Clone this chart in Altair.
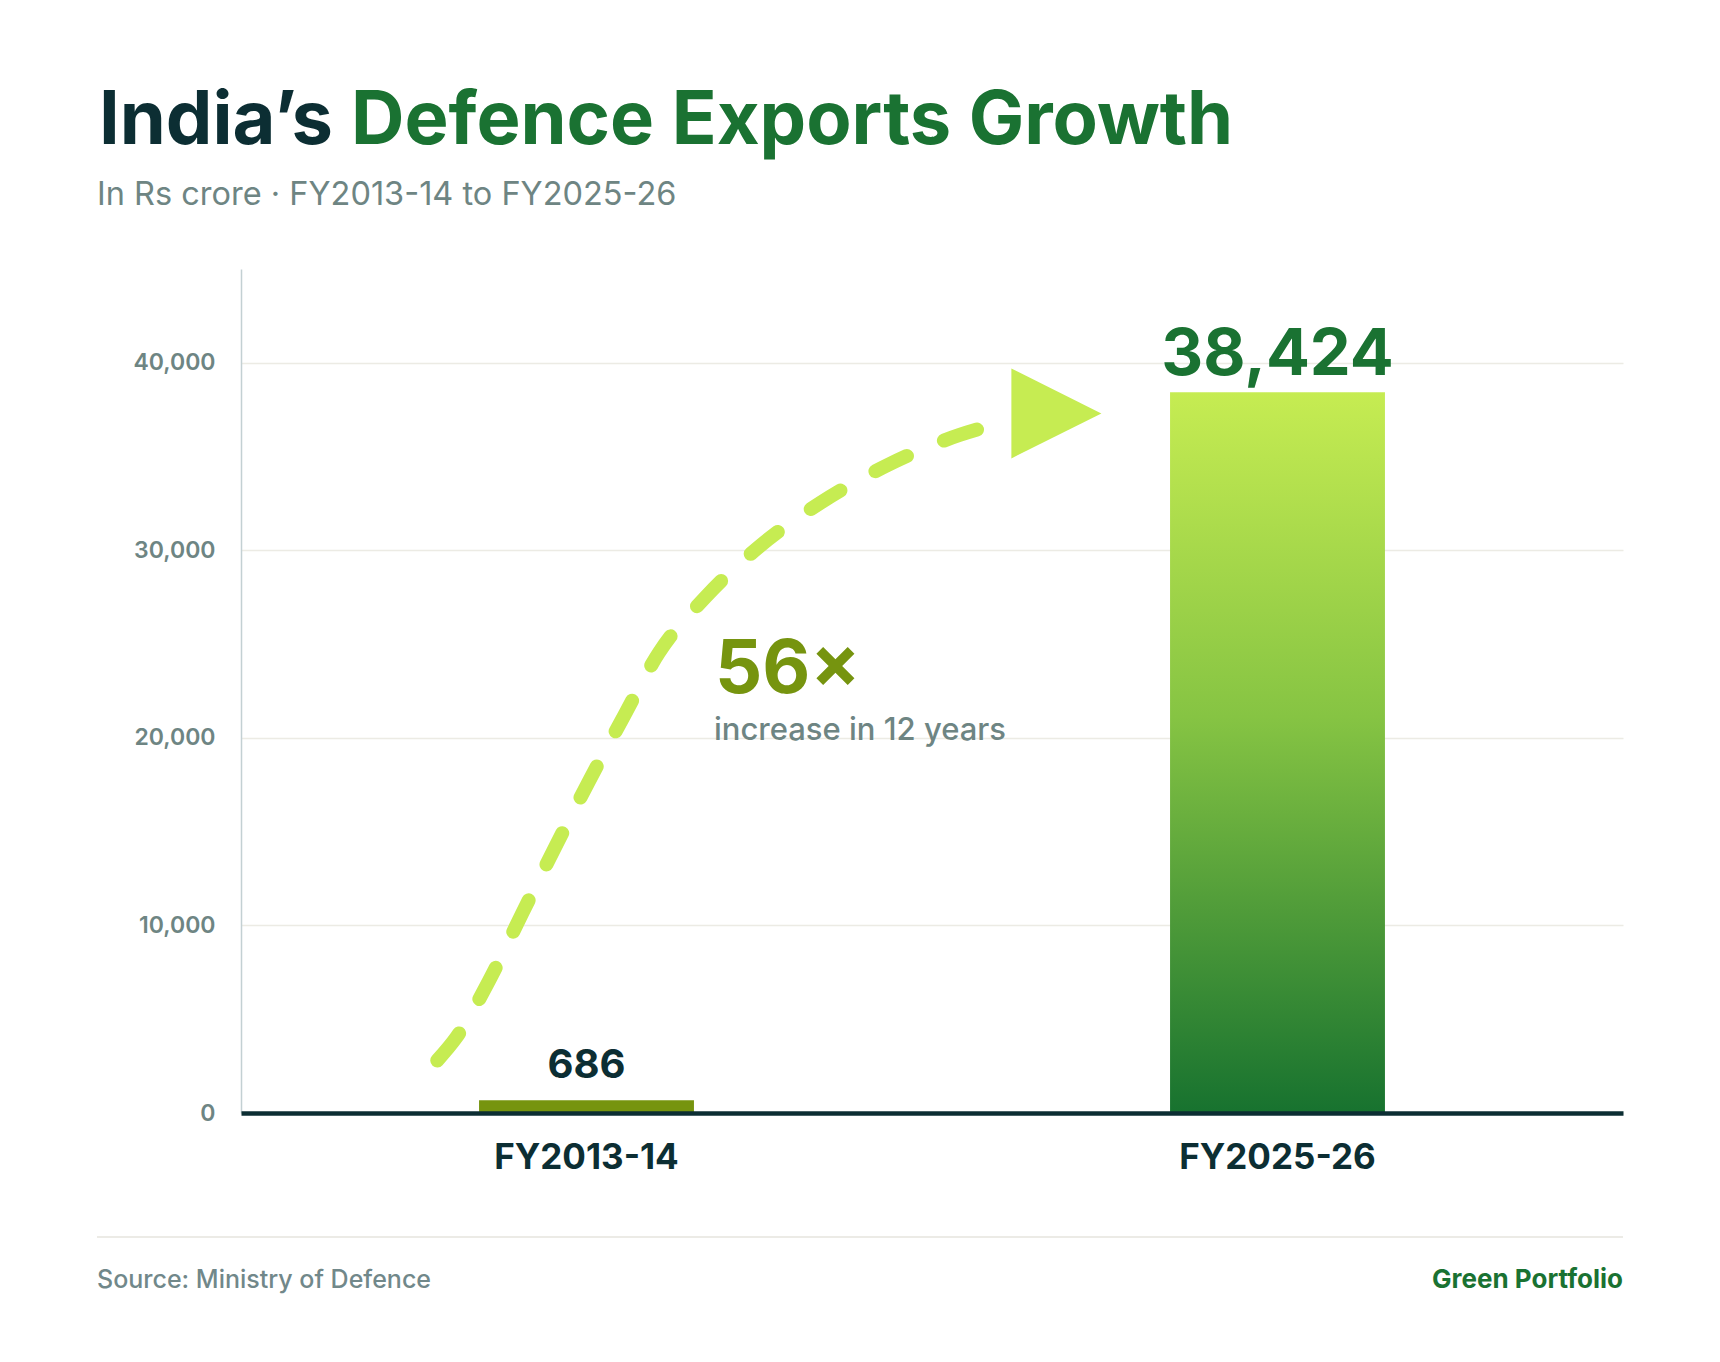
import altair as alt
import pandas as pd

# ---- data ----
categories = ["FY2013-14", "FY2025-26"]
exports = [686, 38424]
y_ticks = [0, 10000, 20000, 30000, 40000]

# curved growth arrow, in chart units (x: 0..2 band units, y: Rs crore)
arrow_u = [0.284, 0.312, 0.361, 0.407, 0.455, 0.503, 0.551, 0.605, 0.672, 0.750, 0.839, 0.936, 1.040, 1.112]
arrow_v = [2800, 4050, 7200, 10650, 14200, 17650, 20950, 24550, 27500, 30200, 32550, 34550, 36150, 36900]
head_u = [1.18]
head_v = [37300]

title_dark = "India’s"
title_green = "Defence Exports Growth"
subtitle = "In Rs crore · FY2013-14 to FY2025-26"
multiplier = "56×"
multiplier_note = "increase in 12 years"
source = "Source: Ministry of Defence"
brand = "Green Portfolio"

# ---- style ----
W, H = 1382, 844
DARK = "#0c2e33"
GREEN = "#1a7232"
OLIVE = "#76940f"
LIME = "#c6ec52"
GREY = "#6e8583"
FONT = "Inter"

df = pd.DataFrame({"fy": categories, "value": exports})
xsc = alt.Scale(domain=categories, paddingInner=0.689, paddingOuter=0.3445)
ysc = alt.Scale(domain=[0, 45000], nice=False)

yaxis = alt.Axis(title=None, values=y_ticks, format=",", grid=True, gridColor="#ecebe4",
                 gridWidth=1.5, domainColor="#c3d0d3", domainWidth=1.5, ticks=False, tickSize=0,
                 labelFont=FONT, labelFontSize=23, labelFontWeight=600, labelColor=GREY,
                 labelPadding=26, labelExpr="format(datum.value, ',')")

bar_old = alt.Chart(df).transform_filter(alt.datum.fy == categories[0]).mark_bar(color=OLIVE).encode(
    x=alt.X("fy:N", scale=xsc, sort=categories,
            axis=alt.Axis(title=None, domainColor=DARK, domainWidth=4.5, ticks=False, tickSize=0,
                          labelFont=FONT, labelFontSize=35, labelFontWeight=700, labelColor=DARK,
                          labelPadding=55, labelBaseline="alphabetic", labelAngle=0, labelLimit=600,
                          grid=False, zindex=1)),
    y=alt.Y("value:Q", scale=ysc, axis=yaxis),
)

grad = alt.Gradient(
    gradient="linear",
    stops=[alt.GradientStop(color="#c6ec52", offset=0),
           alt.GradientStop(color="#86c443", offset=0.45),
           alt.GradientStop(color="#17722f", offset=1)],
    x1=0, x2=0, y1=0, y2=1,
)
bar_new = alt.Chart(df).transform_filter(alt.datum.fy == categories[1]).mark_bar(color=grad).encode(
    x=alt.X("fy:N", scale=xsc, sort=categories, axis=None),
    y=alt.Y("value:Q", scale=ysc, axis=yaxis),
)

lab_old = alt.Chart(df).transform_filter(alt.datum.fy == categories[0]).mark_text(
    baseline="alphabetic", dy=-22, font=FONT, fontSize=40, fontWeight=700, color=DARK
).encode(
    x=alt.X("fy:N", scale=xsc, sort=categories, axis=None),
    y=alt.Y("value:Q", scale=ysc, axis=yaxis),
    text=alt.Text("value:Q", format=","),
)
lab_new = alt.Chart(df).transform_filter(alt.datum.fy == categories[1]).mark_text(
    baseline="alphabetic", dy=-17, font=FONT, fontSize=65, fontWeight=700, color=GREEN
).encode(
    x=alt.X("fy:N", scale=xsc, sort=categories, axis=None),
    y=alt.Y("value:Q", scale=ysc, axis=yaxis),
    text=alt.Text("value:Q", format=","),
)

usc = alt.Scale(domain=[0, 2], nice=False, zero=False)
arrow_df = pd.DataFrame({"u": arrow_u, "v": arrow_v})
arrow = alt.Chart(arrow_df).mark_line(
    color=LIME, strokeWidth=14, strokeCap="round", strokeDash=[35, 40], interpolate="monotone"
).encode(
    x=alt.X("u:Q", scale=usc, axis=None),
    y=alt.Y("v:Q", scale=ysc, axis=yaxis),
)
head = alt.Chart(pd.DataFrame({"u": head_u, "v": head_v})).mark_point(
    shape="M-1,-1L1,0L-1,1Z", filled=True, size=8100, color=LIME, opacity=1
).encode(
    x=alt.X("u:Q", scale=usc, axis=None),
    y=alt.Y("v:Q", scale=ysc, axis=yaxis),
)


def label(text, x, y, size, color, weight, align="left"):
    return alt.Chart(pd.DataFrame({"t": [text]})).mark_text(
        align=align, baseline="alphabetic", font=FONT, fontSize=size, fontWeight=weight, color=color
    ).encode(x=alt.value(x), y=alt.value(y), text="t:N")


t1 = label(title_dark, -142, -125, 74, DARK, 700)
t2 = label(title_green, 110, -125, 74, GREEN, 700)
st = label(subtitle, -144, -64, 32.5, GREY, 400)
m1 = label(multiplier, 474, 424, 74, OLIVE, 700)
m2 = label(multiplier_note, 473, 471, 31, GREY, 500)
src = label(source, -144, 1019, 25, "#71888a", 500)
brd = label(brand, W, 1019, 26, GREEN, 700, align="right")

sep = alt.Chart(pd.DataFrame({"a": [0]})).mark_rule(color="#ecebe6", strokeWidth=2).encode(
    x=alt.value(-144), x2=alt.value(W), y=alt.value(968)
)

chart = alt.layer(
    bar_old, bar_new, arrow, head, lab_old, lab_new, t1, t2, st, m1, m2, sep, src, brd
).resolve_scale(x="independent").properties(
    width=W, height=H,
    padding={"left": 233, "top": 261, "right": 89, "bottom": 241},
    autosize=alt.AutoSizeParams(type="none"),
    background="white",
).configure_view(stroke=None)

chart.save("out.html", embed_options={"renderer": "svg", "actions": False})
